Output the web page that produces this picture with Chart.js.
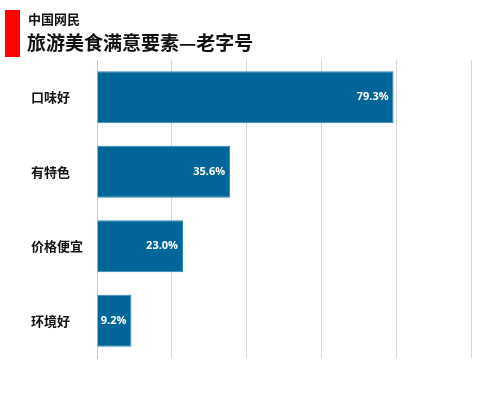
<!DOCTYPE html>
<html>
<head>
<meta charset="utf-8">
<script src="https://cdn.jsdelivr.net/npm/chart.js@4"></script>
<style>
  body { margin: 0; background: #fff; }
  #wrap { position: relative; width: 500px; height: 400px; }
  #redbar { position: absolute; left: 5px; top: 10px; width: 15px; height: 47px; background: #ff0000; }
  #sub { position: absolute; left: 28px; top: 9px; font: bold 13px "Noto Sans CJK SC"; color: #111; }
  #title { position: absolute; left: 27px; top: 28px; font: bold 19px "Noto Sans CJK SC"; color: #111; letter-spacing: 0px; }
  canvas { position: absolute; left: 0; top: 0; }
</style>
</head>
<body>
<div id="wrap">
  <canvas id="canvas" width="500" height="400"></canvas>
  <div id="redbar"></div>
  <div id="sub">中国网民</div>
  <div id="title">旅游美食满意要素—老字号</div>
</div>
<script>
var categories = ['口味好', '有特色', '价格便宜', '环境好'];
var values = [79.3, 35.6, 23.0, 9.2];

// value labels drawn inside the end of each bar
var barLabels = {
  id: 'barLabels',
  afterDatasetsDraw: function(chart) {
    var ctx = chart.ctx;
    var meta = chart.getDatasetMeta(0);
    ctx.save();
    ctx.fillStyle = '#fff';
    ctx.font = 'bold 11px "Open Sans"';
    ctx.textAlign = 'right';
    ctx.textBaseline = 'middle';
    meta.data.forEach(function(bar, i) {
      ctx.fillText(values[i].toFixed(1) + '%', bar.x - 5, bar.y);
    });
    ctx.restore();
  }
};

window.onload = function() {
  var ctx = document.getElementById('canvas').getContext('2d');
  new Chart(ctx, {
    type: 'bar',
    data: {
      labels: categories,
      datasets: [{
        data: values,
        backgroundColor: '#006699',
        borderColor: '#2a86bb',
        borderWidth: 1,
        barPercentage: 0.7,
        categoryPercentage: 1
      }]
    },
    options: {
      indexAxis: 'y',
      responsive: false,
      animation: false,
      layout: { padding: { top: 60, right: 29, bottom: 42, left: 31 } },
      plugins: { legend: { display: false }, tooltip: { enabled: false } },
      scales: {
        x: {
          min: 0, max: 100,
          ticks: { display: false, stepSize: 20 },
          grid: { color: '#d6d6d6', drawTicks: false },
          border: { display: false }
        },
        y: {
          afterFit: function(scale) { scale.width = 66; },
          ticks: { crossAlign: 'far', color: '#111', font: { family: 'Noto Sans CJK SC', size: 13, weight: 'bold' } },
          grid: { display: false, drawTicks: false },
          border: { display: true, color: '#c8c8c8' }
        }
      }
    },
    plugins: [barLabels]
  });
};
</script>
</body>
</html>
